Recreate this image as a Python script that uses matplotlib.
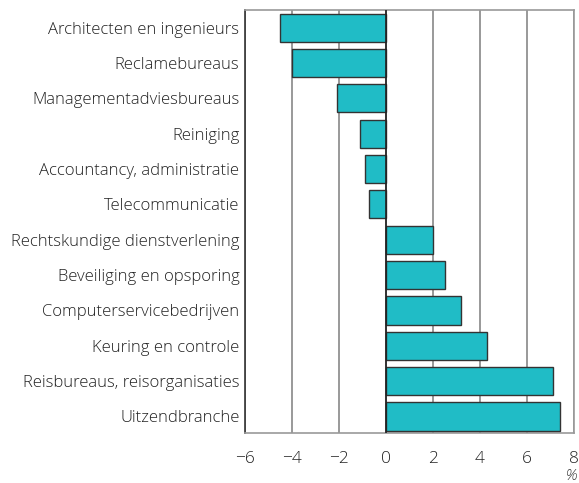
import matplotlib
matplotlib.use('Agg')
import matplotlib.pyplot as plt

# Data
categories = ['Architecten en ingenieurs', 'Reclamebureaus', 'Managementadviesbureaus',
              'Reiniging', 'Accountancy, administratie', 'Telecommunicatie',
              'Rechtskundige dienstverlening', 'Beveiliging en opsporing',
              'Computerservicebedrijven', 'Keuring en controle',
              'Reisbureaus, reisorganisaties', 'Uitzendbranche']
values = [-4.5, -4.0, -2.1, -1.1, -0.9, -0.7, 2.0, 2.5, 3.2, 4.3, 7.1, 7.4]
xticks = [-6, -4, -2, 0, 2, 4, 6, 8]
xticklabels = ['\u22126', '\u22124', '\u22122', '0', '2', '4', '6', '8']

plt.rcParams['font.family'] = ['Open Sans', 'DejaVu Sans']
plt.rcParams['font.weight'] = 'light'

fig = plt.figure(figsize=(5.79, 4.83), dpi=100)
ax = fig.add_axes([0.4231, 0.1035, 0.5678, 0.8758])

y = list(range(len(categories)))
ax.barh(y, values, height=0.8, color='#20bcc6', edgecolor='#333333', linewidth=1.0, zorder=3)

ax.set_xlim(-6, 8)
ax.set_ylim(11.47, -0.5)
ax.set_xticks(xticks)
ax.set_xticklabels(xticklabels, fontsize=12.5, color='#222222')
ax.set_yticks(y)
ax.set_yticklabels(categories, fontsize=12, color='#222222')
ax.tick_params(axis='y', length=0, pad=4)
ax.tick_params(axis='x', length=0, pad=13)

ax.grid(axis='x', color='#888888', linewidth=1.2, zorder=0)
ax.axvline(0, color='#222222', linewidth=1.2, zorder=4)
for s in ['top', 'right', 'bottom']:
    ax.spines[s].set_color('#999999')
    ax.spines[s].set_linewidth(1.2)
ax.spines['left'].set_color('#333333')
ax.spines['left'].set_linewidth(1.2)

ax.text(1.01, -0.112, '%', transform=ax.transAxes, ha='right', va='baseline',
        fontsize=10.5, color='#333333', style='italic')

fig.savefig('out.png', dpi=100)
